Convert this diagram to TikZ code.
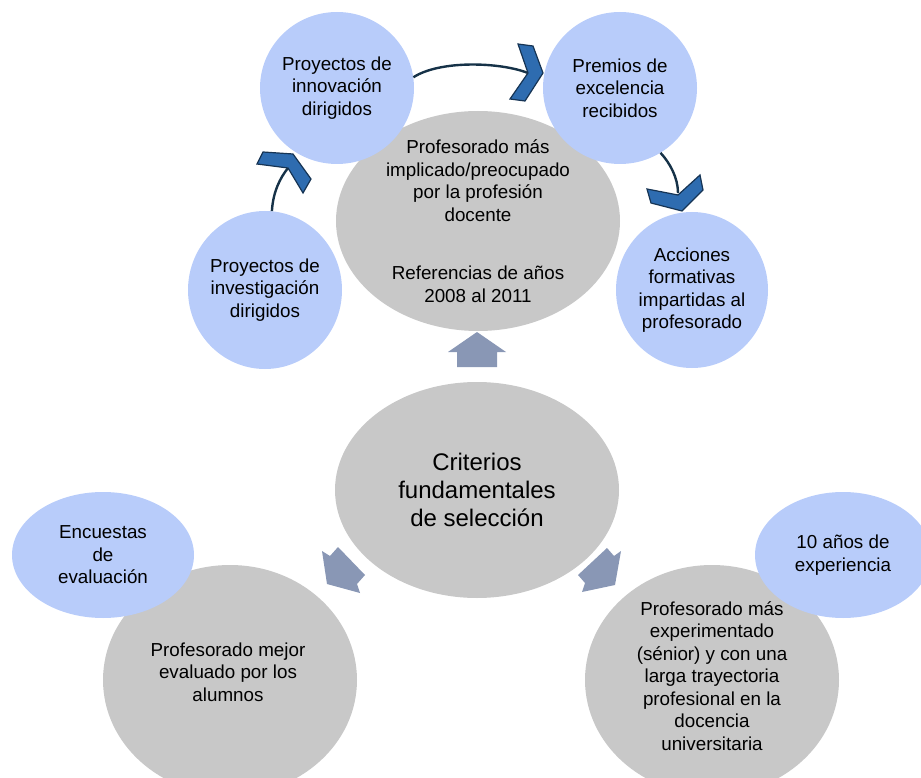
\documentclass[tikz,border=0pt]{standalone}
\usepackage{fontspec}
\setmainfont{Liberation Sans}
\usetikzlibrary{shapes.geometric}

\definecolor{bubbleblue}{RGB}{184,204,250}
\definecolor{greyfill}{RGB}{200,200,200}
\definecolor{arrowgrey}{RGB}{137,151,181}
\definecolor{chevfill}{RGB}{46,108,176}
\definecolor{chevline}{RGB}{22,52,84}
\definecolor{linkline}{RGB}{22,50,72}

\tikzset{
  bubble/.style={ellipse, fill=bubbleblue, inner sep=0pt},
  greyell/.style={ellipse, fill=greyfill, inner sep=0pt},
  txt/.style={align=center, inner sep=0pt, font=\fontsize{18.8}{22.5}\selectfont},
  bigtxt/.style={align=center, inner sep=0pt, font=\fontsize{24}{28}\selectfont},
  chev/.style={fill=chevfill, draw=chevline, line width=1.2pt, line join=miter},
  link/.style={draw=linkline, line width=2.4pt},
  blockarrow/.style={fill=arrowgrey}
}

\begin{document}
\begin{tikzpicture}[x=1pt,y=-1pt]
                    \useasboundingbox (0,0) rectangle (921,778);

                    % grey ellipses
                    \node[greyell, minimum width=284pt, minimum height=220pt] (impl) at (478,221) {};
                    \node[greyell, minimum width=284pt, minimum height=216pt] (crit) at (477,490) {};
                    \node[greyell, minimum width=254pt, minimum height=230pt] (mejor) at (230,680) {};
                    \node[greyell, minimum width=254pt, minimum height=230pt] (senior) at (712,680) {};

                    % blue circles
                    \node[bubble, minimum width=154pt, minimum height=152pt] (inno) at (337,88) {};
                    \node[bubble, minimum width=154pt, minimum height=152pt] (prem) at (620,88) {};
                    \node[bubble, minimum width=154pt, minimum height=158pt] (inv) at (265,290) {};
                    \node[bubble, minimum width=152pt, minimum height=156pt] (acc) at (692,290) {};
                    \node[bubble, minimum width=182pt, minimum height=126pt] (enc) at (103,555) {};
                    \node[bubble, minimum width=176pt, minimum height=126pt] (exp) at (843,555) {};

                    % texts
                    \node[txt] (impltxt) at (impl) {Profesorado más\\implicado/preocupado\\por la profesión\\docente\\[36pt]Referencias de años\\2008 al 2011};
                    \node[bigtxt] (crittxt) at (crit) {Criterios\\fundamentales\\de selección};
                    \node[txt] (mejortxt) at (228,672) {Profesorado mejor\\evaluado por los\\alumnos};
                    \node[txt] (seniortxt) at (712,676) {Profesorado más\\experimentado\\(sénior) y con una\\larga trayectoria\\profesional en la\\docencia\\universitaria};
                    \node[txt] (innotxt) at (inno) {Proyectos de\\innovación\\dirigidos};
                    \node[txt] (premtxt) at (prem) {Premios de\\excelencia\\recibidos};
                    \node[txt] (invtxt) at (inv) {Proyectos de\\investigación\\dirigidos};
                    \node[txt] (acctxt) at (acc) {Acciones\\formativas\\impartidas al\\profesorado};
                    \node[txt] (enctxt) at (enc) {Encuestas\\de\\evaluación};
                    \node[txt] (exptxt) at (exp) {10 años de\\experiencia};

                    % cycle links with chevron heads
                    \coordinate (c1) at (288,168);
                    \coordinate (c2) at (528,73);
                    \coordinate (c3) at (678,193);
                    \draw[link] (inv.85) .. controls (273,192) and (280,178) .. (c1);
                    \draw[link] (inno.8) .. controls (440,60) and (500,62) .. (c2);
                    \draw[link] (prem.-58) .. controls (670,163) and (678,178) .. (c3);
                    \draw[chev] (257,164) -- (263,152) -- (293,154) -- (311,179) -- (303,193) -- (288,168) -- cycle;
                    \draw[chev] (518,44) -- (533,46) -- (543,73) -- (525,101) -- (510,99) -- (528,73) -- cycle;
                    \draw[chev] (647,189) -- (678,195) -- (700,175) -- (703,190) -- (682,211) -- (651,203) -- cycle;

                    % block arrows
                    \fill[blockarrow] (477,332) -- (506,352) -- (497,352) -- (497,367) -- (457,367) -- (457,352) -- (448,352) -- cycle;
                    \fill[blockarrow] (322,551) -- (330,556) -- (338,547) -- (365,575) -- (357,584) -- (360,593) -- (327,584) -- cycle;
                    \fill[blockarrow] (621,551) -- (614,556) -- (607,548) -- (578,575) -- (585,583) -- (582,592) -- (615,585) -- cycle;
                \end{tikzpicture}
\end{document}
